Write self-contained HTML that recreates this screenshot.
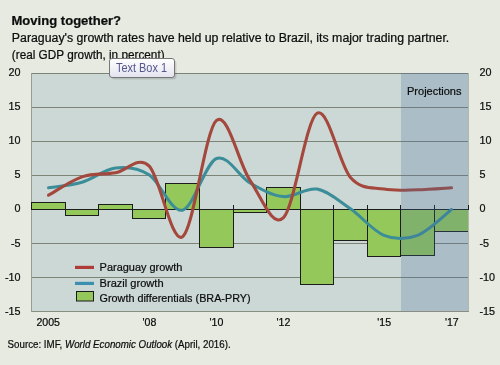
<!DOCTYPE html>
<html><head><meta charset="utf-8"><style>
html,body{margin:0;padding:0;width:500px;height:365px;overflow:hidden;background:#e7eae0;}
svg text{font-family:"Liberation Sans",sans-serif;stroke:#0c0c0c;stroke-width:0.22px;} svg text.nb{stroke:none} svg{will-change:transform;}
</style></head><body>
<svg font-family="Liberation Sans, sans-serif" width="500" height="365" viewBox="0 0 500 365" style="position:absolute;left:0;top:0">
<rect x="31" y="73" width="437" height="238" fill="#ccd8d5"/>
<path d="M31,73.5H468M31,107.5H468M31,141.5H468M31,175.5H468M31,243.5H468M31,277.5H468" stroke="#7e8378" stroke-width="1" fill="none"/>
<path d="M31,311.5H469" stroke="#8a8e82" stroke-width="1" fill="none"/>
<path d="M31.5,73V311.5" stroke="#9a9d92" stroke-width="1" fill="none"/>
<g fill="#95c85a" stroke="#1c1c1c" stroke-width="1"><rect x="31.5" y="202.5" width="34" height="7"/><rect x="65.5" y="209.5" width="33" height="6"/><rect x="98.5" y="204.5" width="34" height="5"/><rect x="132.5" y="209.5" width="33" height="9"/><rect x="165.5" y="183.5" width="34" height="26"/><rect x="199.5" y="209.5" width="34" height="38"/><rect x="233.5" y="209.5" width="33" height="3"/><rect x="266.5" y="187.5" width="34" height="22"/><rect x="300.5" y="209.5" width="33" height="75"/><rect x="333.5" y="209.5" width="34" height="31"/><rect x="367.5" y="209.5" width="33" height="47"/><rect x="400.5" y="209.5" width="34" height="46"/><rect x="434.5" y="209.5" width="34" height="22"/></g>
<path d="M468.5,73V311" stroke="#b0b8aa" stroke-width="1" fill="none"/>
<path d="M31,209.5H469" stroke="#1c1c1c" stroke-width="1"/>
<path d="M31.5,205V209.5M65.5,205V209.5M98.5,205V209.5M132.5,205V209.5M165.5,205V209.5M199.5,205V209.5M233.5,205V209.5M266.5,205V209.5M300.5,205V209.5M333.5,205V209.5M367.5,205V209.5M400.5,205V209.5M434.5,205V209.5M468.5,205V209.5" stroke="#1c1c1c" stroke-width="1"/>
<path d="M48.50,187.74 C54.08,186.83 70.83,185.59 82.00,182.30 C93.17,179.01 104.33,169.27 115.50,168.02 C126.67,166.77 137.83,167.79 149.00,174.82 C160.17,181.85 171.25,212.90 182.50,210.18 C193.75,207.46 205.25,163.03 216.50,158.50 C227.75,153.97 238.83,176.63 250.00,182.98 C261.17,189.33 272.33,195.56 283.50,196.58 C294.67,197.60 305.83,187.06 317.00,189.10 C328.17,191.14 339.33,201.11 350.50,208.82 C361.67,216.53 372.83,230.92 384.00,235.34 C395.17,239.76 406.25,239.65 417.50,235.34 C428.75,231.03 445.83,213.81 451.50,209.50" stroke="#3b8d99" stroke-width="3" fill="none" stroke-linecap="round"/>
<path d="M48.50,195.22 C54.08,192.16 70.83,180.60 82.00,176.86 C93.17,173.12 104.33,174.59 115.50,172.78 C126.67,170.97 137.83,155.33 149.00,165.98 C160.17,176.63 171.25,244.29 182.50,236.70 C193.75,229.11 205.25,129.83 216.50,120.42 C227.75,111.01 238.83,164.05 250.00,180.26 C261.17,196.47 272.33,228.82 283.50,217.66 C294.67,206.50 305.83,119.97 317.00,113.28 C328.17,106.59 339.33,164.90 350.50,177.54 C361.67,190.18 372.83,187.06 384.00,189.10 C395.17,191.14 406.25,190.01 417.50,189.78 C428.75,189.55 445.83,188.08 451.50,187.74" stroke="#a4483d" stroke-width="3.1" fill="none" stroke-linecap="round"/>
<rect x="401" y="73" width="67" height="238" fill="#466ea5" fill-opacity="0.25"/>
<rect x="75" y="265.8" width="19" height="3.2" fill="#b03c3a"/>
<rect x="75" y="281.8" width="19" height="3.2" fill="#3d8fb0"/>
<rect x="76.5" y="291.5" width="17" height="9.5" fill="#95c85a" stroke="#1a1a1a" stroke-width="1"/><text x="11.5" y="25.2" font-size="12.6" font-weight="bold" font-style="normal" fill="#0d0d0d" text-anchor="start" textLength="109.5" lengthAdjust="spacingAndGlyphs">Moving together?</text><text x="11.8" y="42.3" font-size="12" font-weight="normal" font-style="normal" fill="#0c0c0c" text-anchor="start" textLength="437.5" lengthAdjust="spacingAndGlyphs">Paraguay's growth rates have held up relative to Brazil, its major trading partner.</text><text x="11.8" y="58.5" font-size="12" font-weight="normal" font-style="normal" fill="#0c0c0c" text-anchor="start" textLength="152.8" lengthAdjust="spacingAndGlyphs">(real GDP growth, in percent)</text><text x="20.5" y="76.3" font-size="10.8" font-weight="normal" font-style="normal" fill="#0c0c0c" text-anchor="end">20</text><text x="479.5" y="76.3" font-size="10.8" font-weight="normal" font-style="normal" fill="#0c0c0c" text-anchor="start">20</text><text x="20.5" y="110.3" font-size="10.8" font-weight="normal" font-style="normal" fill="#0c0c0c" text-anchor="end">15</text><text x="479.5" y="110.3" font-size="10.8" font-weight="normal" font-style="normal" fill="#0c0c0c" text-anchor="start">15</text><text x="20.5" y="144.3" font-size="10.8" font-weight="normal" font-style="normal" fill="#0c0c0c" text-anchor="end">10</text><text x="479.5" y="144.3" font-size="10.8" font-weight="normal" font-style="normal" fill="#0c0c0c" text-anchor="start">10</text><text x="20.5" y="178.3" font-size="10.8" font-weight="normal" font-style="normal" fill="#0c0c0c" text-anchor="end">5</text><text x="479.5" y="178.3" font-size="10.8" font-weight="normal" font-style="normal" fill="#0c0c0c" text-anchor="start">5</text><text x="20.5" y="212.3" font-size="10.8" font-weight="normal" font-style="normal" fill="#0c0c0c" text-anchor="end">0</text><text x="479.5" y="212.3" font-size="10.8" font-weight="normal" font-style="normal" fill="#0c0c0c" text-anchor="start">0</text><text x="20.5" y="247.20000000000002" font-size="10.8" font-weight="normal" font-style="normal" fill="#0c0c0c" text-anchor="end">-5</text><text x="479.5" y="247.20000000000002" font-size="10.8" font-weight="normal" font-style="normal" fill="#0c0c0c" text-anchor="start">-5</text><text x="20.5" y="281.2" font-size="10.8" font-weight="normal" font-style="normal" fill="#0c0c0c" text-anchor="end">-10</text><text x="479.5" y="281.2" font-size="10.8" font-weight="normal" font-style="normal" fill="#0c0c0c" text-anchor="start">-10</text><text x="20.5" y="315.2" font-size="10.8" font-weight="normal" font-style="normal" fill="#0c0c0c" text-anchor="end">-15</text><text x="479.5" y="315.2" font-size="10.8" font-weight="normal" font-style="normal" fill="#0c0c0c" text-anchor="start">-15</text><text x="48.2" y="325.8" font-size="10.6" font-weight="normal" font-style="normal" fill="#0c0c0c" text-anchor="middle">2005</text><text x="149.4" y="325.8" font-size="10.6" font-weight="normal" font-style="normal" fill="#0c0c0c" text-anchor="middle">'08</text><text x="216.5" y="325.8" font-size="10.6" font-weight="normal" font-style="normal" fill="#0c0c0c" text-anchor="middle">'10</text><text x="283.4" y="325.8" font-size="10.6" font-weight="normal" font-style="normal" fill="#0c0c0c" text-anchor="middle">'12</text><text x="384.2" y="325.8" font-size="10.6" font-weight="normal" font-style="normal" fill="#0c0c0c" text-anchor="middle">'15</text><text x="451.8" y="325.8" font-size="10.6" font-weight="normal" font-style="normal" fill="#0c0c0c" text-anchor="middle">'17</text><text x="407" y="95.2" font-size="11.4" font-weight="normal" font-style="normal" fill="#0c0c0c" text-anchor="start" textLength="54.5" lengthAdjust="spacingAndGlyphs">Projections</text><text x="99.6" y="270.8" font-size="11.2" font-weight="normal" font-style="normal" fill="#0c0c0c" text-anchor="start" textLength="82.8" lengthAdjust="spacingAndGlyphs">Paraguay growth</text><text x="99.6" y="286.5" font-size="11.2" font-weight="normal" font-style="normal" fill="#0c0c0c" text-anchor="start" textLength="64" lengthAdjust="spacingAndGlyphs">Brazil growth</text><text x="99.6" y="302.2" font-size="11.2" font-weight="normal" font-style="normal" fill="#0c0c0c" text-anchor="start" textLength="151" lengthAdjust="spacingAndGlyphs">Growth differentials (BRA-PRY)</text><text x="7.6" y="348" font-size="10.6" fill="#0c0c0c" textLength="223" lengthAdjust="spacingAndGlyphs">Source: IMF, <tspan font-style="italic">World Economic Outlook</tspan> (April, 2016).</text><g>
<rect x="111.5" y="60.5" width="65" height="19" rx="3" fill="#000" fill-opacity="0.12"/>
<defs><linearGradient id="tg" x1="0" y1="0" x2="0" y2="1"><stop offset="0" stop-color="#ffffff"/><stop offset="1" stop-color="#e3e3ef"/></linearGradient></defs>
<rect x="109.5" y="58.5" width="65" height="19" rx="2.5" fill="url(#tg)" stroke="#767676" stroke-width="1"/>
<text class="nb" x="116" y="71.6" font-size="12.2" fill="#55558e" textLength="51" lengthAdjust="spacingAndGlyphs">Text Box 1</text>
</g></svg>
</body></html>
